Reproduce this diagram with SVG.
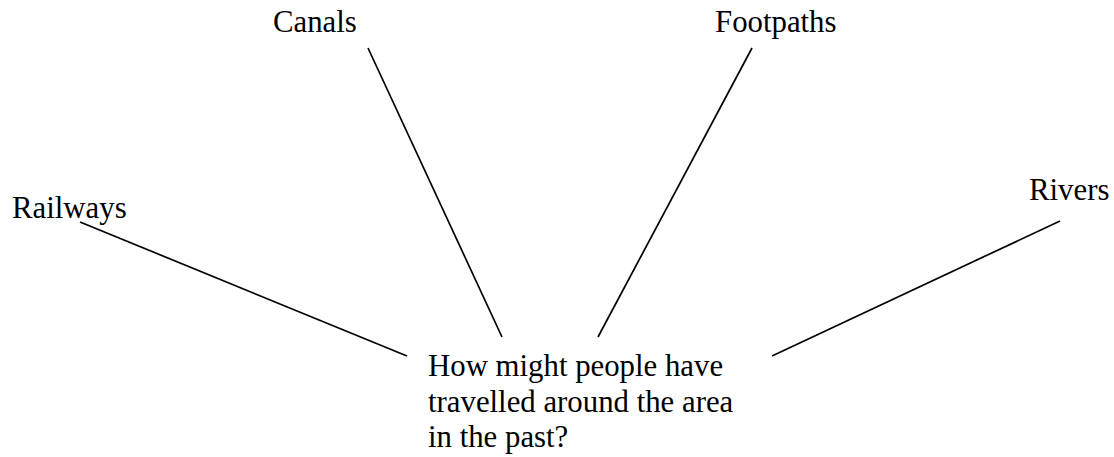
<svg xmlns="http://www.w3.org/2000/svg" width="1114" height="457" viewBox="0 0 1114 457">
<style>
text{font-family:"Liberation Serif","Times New Roman",serif;font-size:30.8px;fill:#000}
.c line{stroke:#000;stroke-width:1.7;fill:none}
</style>
<rect width="1114" height="457" fill="#fff"/>
<g class="c" id="connectors">
<line x1="80" y1="222" x2="407" y2="356"/>
<line x1="368" y1="48" x2="502" y2="337"/>
<line x1="752" y1="48" x2="598" y2="337"/>
<line x1="1060" y1="221" x2="772" y2="356"/>
</g>
<g id="railways"><text x="12" y="218">Railways</text></g>
<g id="canals"><text x="273" y="32">Canals</text></g>
<g id="footpaths"><text x="715" y="32">Footpaths</text></g>
<g id="rivers"><text x="1029" y="200">Rivers</text></g>
<g id="center">
<text x="428" y="376">How might people have</text>
<text x="428" y="411.5">travelled around the area</text>
<text x="428" y="447">in the past?</text>
</g>
</svg>
